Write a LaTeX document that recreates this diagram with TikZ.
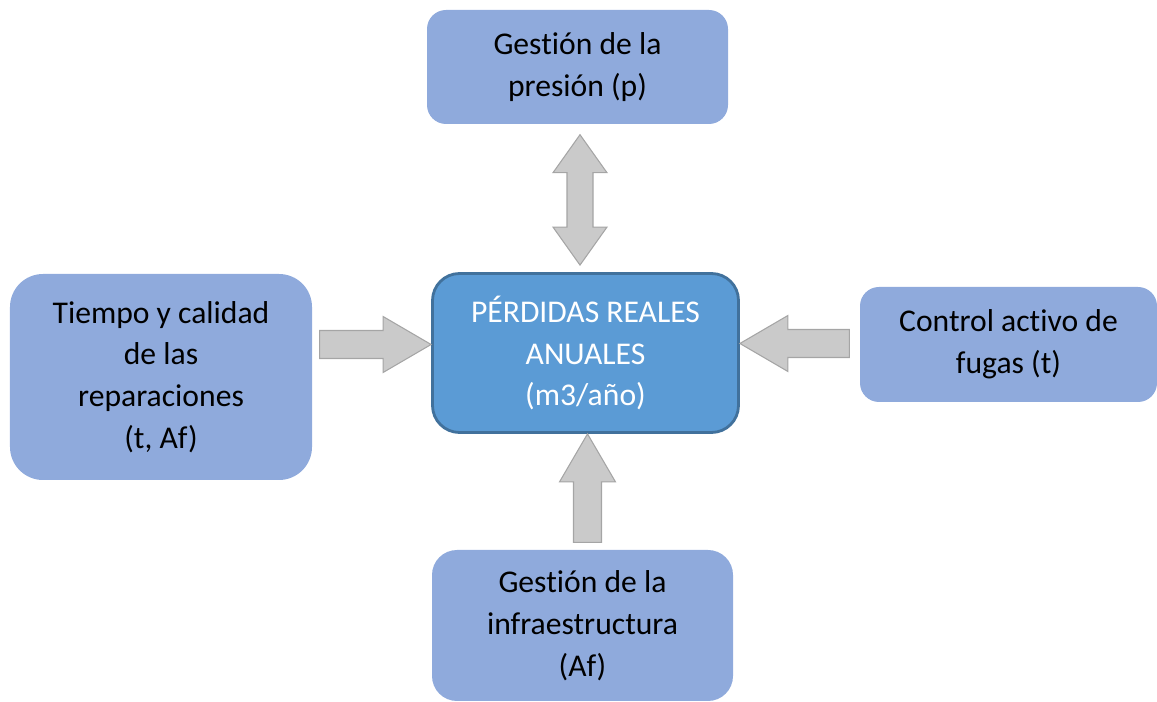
\documentclass[tikz,border=0pt]{standalone}
\usepackage{fontspec}
\setmainfont{Carlito}[Ligatures=NoCommon]
\usetikzlibrary{calc}

\definecolor{cajaazul}{HTML}{8FAADC}
\definecolor{centroazul}{HTML}{5B9BD5}
\definecolor{bordeazul}{HTML}{41719C}
\definecolor{flechagris}{HTML}{CACACA}
\definecolor{bordegris}{HTML}{A5A5A5}

\tikzset{
  caja/.style={fill=cajaazul, draw=none, align=center, inner sep=0pt,
    font=\fontsize{9}{11.9}\selectfont},
  flecha/.style={fill=flechagris, draw=bordegris, line width=0.3pt, line join=miter},
}

% flecha de bloque de #1 (cola) a #2 (punta)
\newcommand{\flechasimple}[2]{%
  \coordinate (fb) at ($(#2)!0.48cm!(#1)$);
  \filldraw[flecha] ($(#1)!0.14cm!90:(#2)$) -- ($(fb)!0.14cm!90:(#2)$)
    -- ($(fb)!0.28cm!90:(#2)$) -- (#2) -- ($(fb)!0.28cm!-90:(#2)$)
    -- ($(fb)!0.14cm!-90:(#2)$) -- ($(#1)!0.14cm!-90:(#2)$) -- cycle;}

% flecha de bloque con dos puntas
\newcommand{\flechadoble}[2]{%
  \coordinate (fa) at ($(#1)!0.38cm!(#2)$);
  \coordinate (fb) at ($(#2)!0.38cm!(#1)$);
  \filldraw[flecha] (#1) -- ($(fa)!0.27cm!90:(#2)$) -- ($(fa)!0.13cm!90:(#2)$)
    -- ($(fb)!0.13cm!-90:(#1)$) -- ($(fb)!0.27cm!-90:(#1)$) -- (#2)
    -- ($(fb)!0.27cm!90:(#1)$) -- ($(fb)!0.13cm!90:(#1)$)
    -- ($(fa)!0.13cm!-90:(#2)$) -- ($(fa)!0.27cm!-90:(#2)$) -- cycle;}

\begin{document}
\begin{tikzpicture}

\useasboundingbox (0,0) rectangle (11.57,-7.02);

%% cajas
\node[caja, minimum width=3.01cm, minimum height=1.14cm, rounded corners=0.19cm]
  (presion) at (5.775,-0.67) {Gestión de la\\presión (p)};
\node[caja, minimum width=3.02cm, minimum height=2.06cm, rounded corners=0.33cm]
  (tiempo) at (1.61,-3.77) {Tiempo y calidad\\de las\\reparaciones\\(t, Af)};
\node[caja, fill=centroazul, draw=bordeazul, line width=0.8pt, text=white,
  minimum width=3.06cm, minimum height=1.59cm, rounded corners=0.27cm]
  (perdidas) at (5.855,-3.53) {PÉRDIDAS REALES\\ANUALES\\(m3/año)};
\node[caja, minimum width=2.97cm, minimum height=1.15cm, rounded corners=0.19cm]
  (fugas) at (10.085,-3.445) {Control activo de\\fugas (t)};
\node[caja, minimum width=3.01cm, minimum height=1.51cm, rounded corners=0.25cm]
  (infra) at (5.825,-6.255) {Gestión de la\\infraestructura\\(Af)};

%% flechas
\coordinate (p1) at ($(presion.south)+(0.025,-0.10)$);
\coordinate (p2) at ($(perdidas.north)+(-0.055,0.07)$);
\coordinate (i1) at ($(tiempo.east)+(0.07,0.325)$);
\coordinate (i2) at ($(perdidas.west)+(0,0.085)$);
\coordinate (d1) at ($(fugas.west)+(-0.10,0.01)$);
\coordinate (d2) at ($(perdidas.east)+(0,0.095)$);
\coordinate (b1) at ($(infra.north)+(0.05,0.07)$);
\coordinate (b2) at ($(perdidas.south)+(0.02,0)$);

\flechadoble{p1}{p2}
\flechasimple{i1}{i2}
\flechasimple{d1}{d2}
\flechasimple{b1}{b2}

\end{tikzpicture}
\end{document}
